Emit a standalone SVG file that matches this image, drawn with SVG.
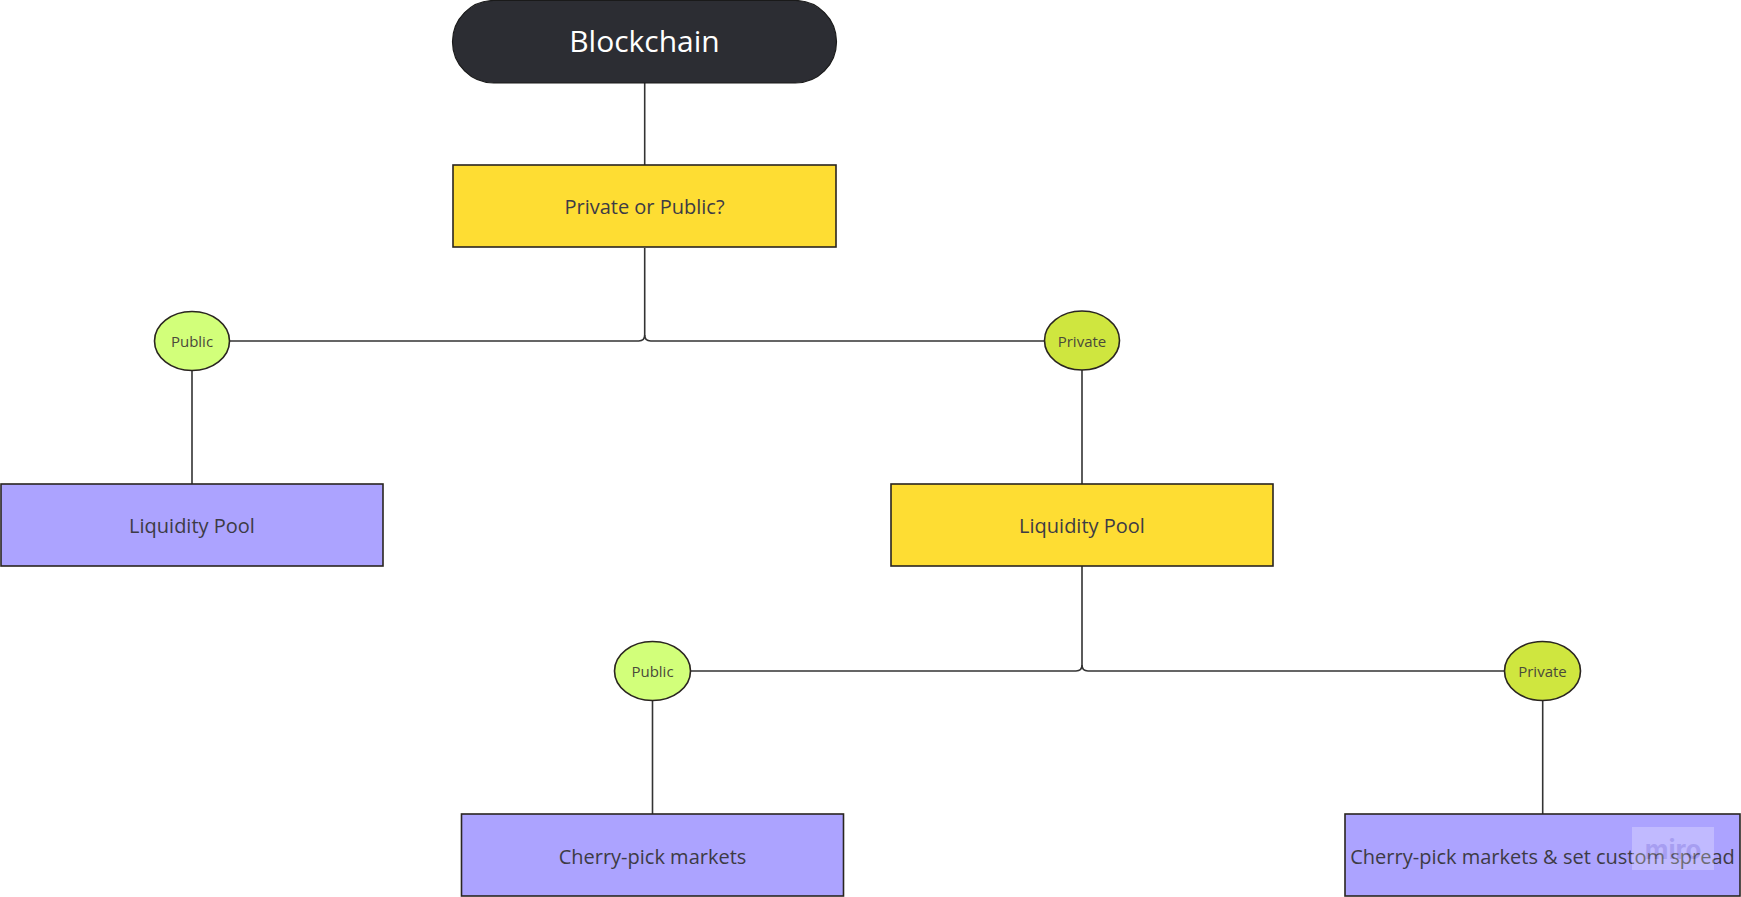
<svg xmlns="http://www.w3.org/2000/svg" width="1741" height="897" viewBox="0 0 1741 897">
<style>
.box{stroke:#2a2520;stroke-width:1.6}
.yel{fill:#fedd33}
.pur{fill:#aca3ff}
.pub{fill:#d2ff7a}
.pri{fill:#cfe63f}
.t{font-family:"Open Sans","Noto Sans","Liberation Sans",sans-serif;fill:#3d3b45;text-anchor:middle;dominant-baseline:central}
.big{font-size:20px}
.sm{font-size:15px;fill:#4a4a3a}
.conn path{fill:none;stroke:#333;stroke-width:1.6}
</style>
<rect width="1741" height="897" fill="#fff"/>
<g class="conn">
<path d="M644.7 83 V165"/>
<path d="M644.7 248 V335 Q644.7 341 638.7 341 H229.5"/>
<path d="M644.7 335 Q644.7 341 650.7 341 H1044"/>
<path d="M192 370 V484"/>
<path d="M1082 370 V484"/>
<path d="M1082 566 V665 Q1082 671 1076 671 H691"/>
<path d="M1082 665 Q1082 671 1088 671 H1504"/>
<path d="M652.5 701 V814"/>
<path d="M1542.7 701 V814"/>
</g>
<g id="blockchain">
<rect x="452.5" y="0.5" width="384" height="82.5" rx="41.25" fill="#2c2d33" stroke="#1a1a1a" stroke-width="1.2"/>
<text class="t" x="644.5" y="40.5" style="font-size:30px;fill:#fff">Blockchain</text>
</g>
<g id="private-or-public">
<rect class="box yel" x="453" y="165" width="383" height="82"/>
<text class="t big" x="644.5" y="206">Private or Public?</text>
</g>
<g id="public-1">
<ellipse class="box pub" cx="192" cy="341" rx="37.5" ry="29.5"/>
<text class="t sm" x="192" y="341">Public</text>
</g>
<g id="private-1">
<ellipse class="box pri" cx="1082" cy="340.5" rx="37.5" ry="29.5"/>
<text class="t sm" x="1082" y="340.5">Private</text>
</g>
<g id="liquidity-pool-left">
<rect class="box pur" x="1" y="484" width="382" height="82"/>
<text class="t big" x="192" y="525">Liquidity Pool</text>
</g>
<g id="liquidity-pool-right">
<rect class="box yel" x="891" y="484" width="382" height="82"/>
<text class="t big" x="1082" y="525">Liquidity Pool</text>
</g>
<g id="public-2">
<ellipse class="box pub" cx="652.5" cy="671" rx="38" ry="29.5"/>
<text class="t sm" x="652.5" y="671">Public</text>
</g>
<g id="private-2">
<ellipse class="box pri" cx="1542.5" cy="671" rx="38" ry="29.5"/>
<text class="t sm" x="1542.5" y="671">Private</text>
</g>
<g id="cherry-pick">
<rect class="box pur" x="461.5" y="814" width="382" height="82"/>
<text class="t big" x="652.5" y="856">Cherry-pick markets</text>
</g>
<g id="cherry-pick-spread">
<rect class="box pur" x="1345" y="814" width="395" height="82"/>
<text class="t big" x="1542.5" y="856">Cherry-pick markets &amp; set custom spread</text>
</g>
<g id="watermark" opacity="0.25">
<rect x="1632" y="827" width="82" height="43" fill="#fff"/>
<text x="1673" y="849" font-family="Inter,'Liberation Sans',sans-serif" font-size="26" font-weight="bold" fill="#9a93c8" text-anchor="middle" dominant-baseline="central">miro</text>
</g>
</svg>
